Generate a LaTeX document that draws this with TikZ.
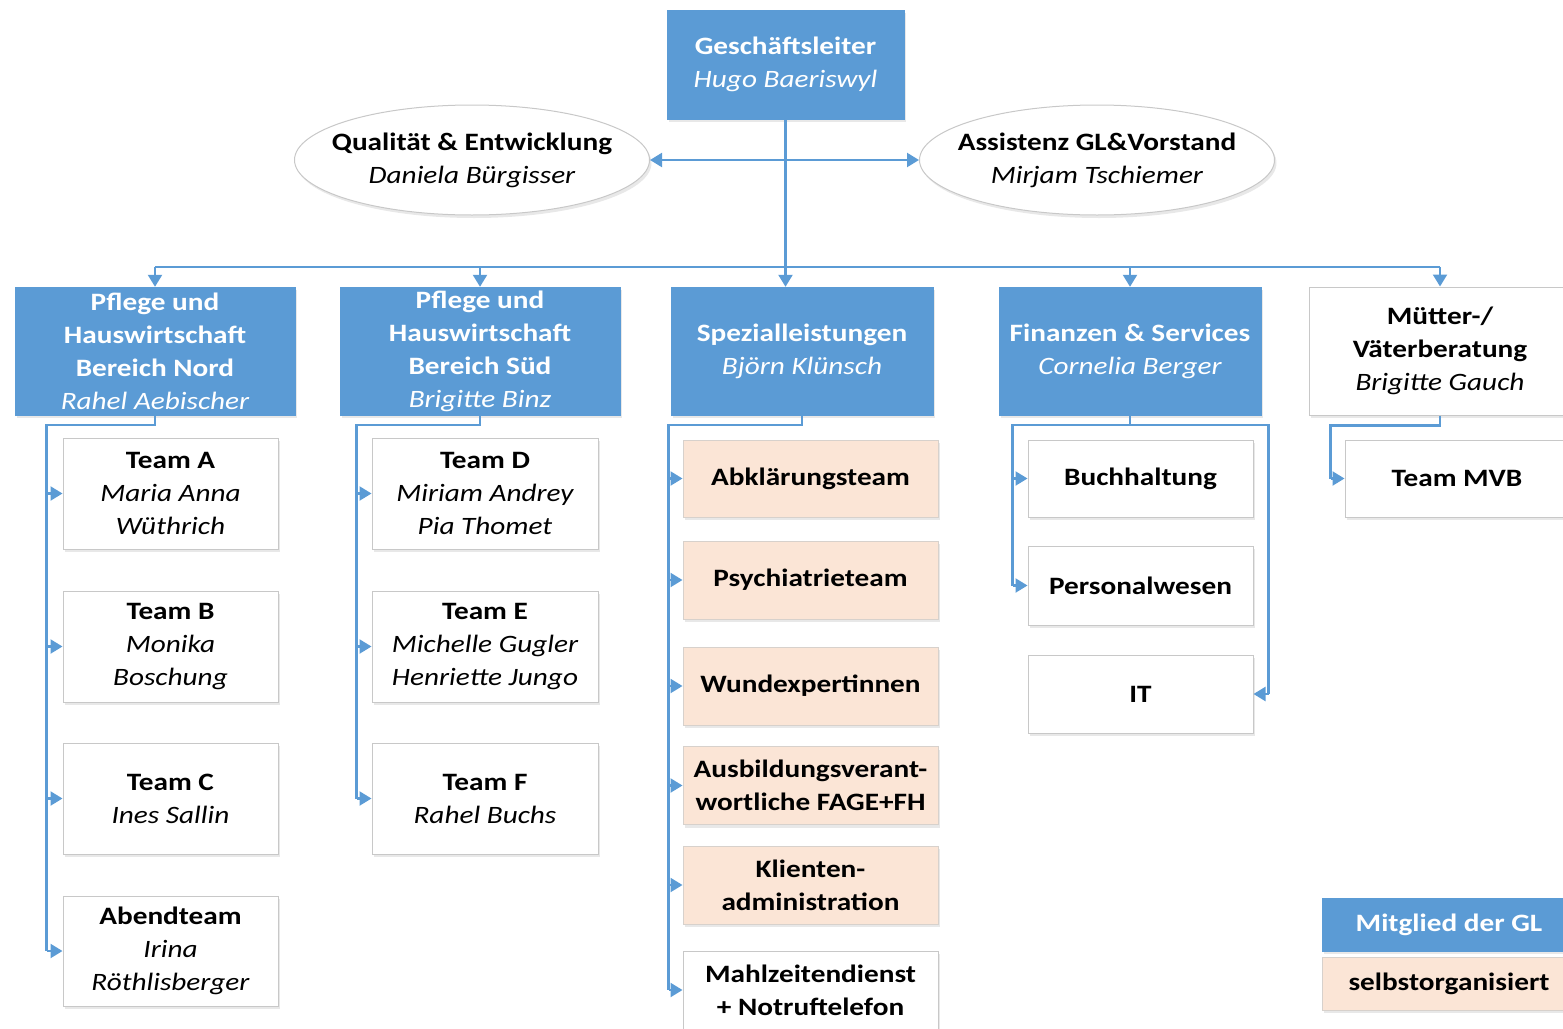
\documentclass[tikz,border=0pt]{standalone}
\usepackage{fontspec}
\setmainfont{Carlito}[FakeStretch=1.17]
\usetikzlibrary{arrows.meta, shapes.geometric, shadows}

\definecolor{glblue}{HTML}{5B9BD5}
\definecolor{selfpeach}{HTML}{FBE5D6}
\definecolor{framegray}{HTML}{C8C8C8}

\newcommand{\who}[1]{{\mdseries\itshape #1}}

\tikzset{
  orgbox/.style={
    rectangle, inner sep=0pt, align=center,
    font=\fontsize{25}{33}\selectfont\bfseries,
    drop shadow={shadow xshift=2pt, shadow yshift=-3pt, opacity=.18}
  },
  lead/.style={orgbox, fill=glblue, draw=glblue, text=white},
  unit/.style={orgbox, fill=white, draw=framegray, line width=1pt},
  selfteam/.style={orgbox, fill=selfpeach, draw=framegray!70!selfpeach, line width=1pt},
  staff/.style={orgbox, ellipse, inner xsep=-15pt, inner ysep=0pt,
    fill=white, draw=framegray, line width=1pt},
  line/.style={draw=glblue, line width=2.2pt},
  tip/.tip={Triangle[length=12pt, width=14pt]},
  link/.style={line, -tip}
}

\begin{document}
\begin{tikzpicture}[x=1pt, y=-1pt]
  \useasboundingbox (0,0) rectangle (1563,1028);

  % Geschaeftsleitung und Stab
  \node[lead, minimum width=237, minimum height=109] (gl) at (785.5,64.5)
    {Geschäftsleiter\\\who{Hugo Baeriswyl}};
  \node[staff, minimum width=355, minimum height=110] (qe) at (472,160)
    {Qualität \& Entwicklung\\\who{Daniela Bürgisser}};
  \node[staff, minimum width=355, minimum height=110] (as) at (1097,160)
    {Assistenz GL\&Vorstand\\\who{Mirjam Tschiemer}};

  % Bereiche
  \node[lead, minimum width=280, minimum height=128] (nord) at (155,351)
    {Pflege und\\Hauswirtschaft\\Bereich Nord\\\who{Rahel Aebischer}};
  \node[lead, minimum width=280, minimum height=128] (sued) at (480,351)
    {Pflege und\\Hauswirtschaft\\Bereich Süd\\\who{Brigitte Binz}};
  \node[lead, minimum width=262, minimum height=128] (spez) at (802,351)
    {Spezialleistungen\\\who{Björn Klünsch}};
  \node[lead, minimum width=262, minimum height=128] (fin) at (1130,351)
    {Finanzen \& Services\\\who{Cornelia Berger}};
  \node[unit, minimum width=262, minimum height=128] (mv) at (1440,351)
    {Mütter-/\\Väterberatung\\\who{Brigitte Gauch}};

  % Teams Nord
  \node[unit, minimum width=215, minimum height=111] (tA) at (170.5,493.5)
    {Team A\\\who{Maria Anna}\\\who{Wüthrich}};
  \node[unit, minimum width=215, minimum height=111] (tB) at (170.5,646.5)
    {Team B\\\who{Monika}\\\who{Boschung}};
  \node[unit, minimum width=215, minimum height=111] (tC) at (170.5,798.5)
    {Team C\\\who{Ines Sallin}};
  \node[unit, minimum width=215, minimum height=110] (abend) at (170.5,951)
    {Abendteam\\\who{Irina}\\\who{Röthlisberger}};

  % Teams Sued
  \node[unit, minimum width=226, minimum height=111] (tD) at (485,493.5)
    {Team D\\\who{Miriam Andrey}\\\who{Pia Thomet}};
  \node[unit, minimum width=226, minimum height=111] (tE) at (485,646.5)
    {Team E\\\who{Michelle Gugler}\\\who{Henriette Jungo}};
  \node[unit, minimum width=226, minimum height=111] (tF) at (485,798.5)
    {Team F\\\who{Rahel Buchs}};

  % Spezialleistungen
  \node[selfteam, minimum width=255, minimum height=77] (abkl) at (810.5,478.5) {Abklärungsteam};
  \node[selfteam, minimum width=255, minimum height=78] (psy) at (810.5,580) {Psychiatrieteam};
  \node[selfteam, minimum width=255, minimum height=78] (wund) at (810.5,686) {Wundexpertinnen};
  \node[selfteam, minimum width=255, minimum height=78] (ausb) at (810.5,785.5)
    {Ausbildungsverant-\\wortliche FAGE+FH};
  \node[selfteam, minimum width=255, minimum height=78] (klient) at (810.5,885)
    {Klienten-\\administration};
  \node[unit, minimum width=255, minimum height=78] (mahl) at (810.5,990)
    {Mahlzeitendienst\\+ Notruftelefon};

  % Finanzen & Services
  \node[unit, minimum width=225, minimum height=77] (buch) at (1140.5,478.5) {Buchhaltung};
  \node[unit, minimum width=225, minimum height=79] (pers) at (1140.5,585.5) {Personalwesen};
  \node[unit, minimum width=225, minimum height=78] (it) at (1140.5,694) {IT};

  % MVB
  \node[unit, minimum width=224, minimum height=77] (mvb) at (1457,478.5) {Team MVB};

  % Legende
  \node[lead, minimum width=254, minimum height=53] (legGL) at (1449,924.5) {Mitglied der GL};
  \node[selfteam, minimum width=254, minimum height=53] (legSelf) at (1449,983.5) {selbstorganisiert};

  % Verbindungen oben
  \draw[line, tip-tip] (qe.east) -- (as.west);
  \draw[link] (gl.south) -- (gl.south |- spez.north);
  \coordinate (busL) at (155,267);
  \coordinate (busR) at (1440,267);
  \draw[line] (busL) -- (busR);
  \foreach \n in {nord, sued, fin, mv}
    \draw[link] (\n.north |- busL) -- (\n.north);

  % Verbindungen zu den Teams
  \draw[line] (nord.south) -- ++(0,10) -| ([xshift=-16]abend.west);
  \foreach \t in {tA, tB, tC, abend}
    \draw[link] ([xshift=-16]\t.west) -- (\t.west);

  \draw[line] (sued.south) -- ++(0,10) -| ([xshift=-15]tF.west);
  \foreach \t in {tD, tE, tF}
    \draw[link] ([xshift=-15]\t.west) -- (\t.west);

  \draw[line] (spez.south) -- ++(0,10) -| ([xshift=-14]mahl.west);
  \foreach \t in {abkl, psy, wund, ausb, klient, mahl}
    \draw[link] ([xshift=-14]\t.west) -- (\t.west);

  \draw[line] (fin.south) -- ++(0,10) -| ([xshift=-15]pers.west);
  \foreach \t in {buch, pers}
    \draw[link] ([xshift=-15]\t.west) -- (\t.west);
  \draw[line] (fin.south) -- ++(0,10) -| ([xshift=15]it.east);
  \draw[link] ([xshift=15]it.east) -- (it.east);

  \draw[line] (mv.south) -- ++(0,10) -| ([xshift=-14]mvb.west);
  \draw[link] ([xshift=-14]mvb.west) -- (mvb.west);
\end{tikzpicture}
\end{document}
